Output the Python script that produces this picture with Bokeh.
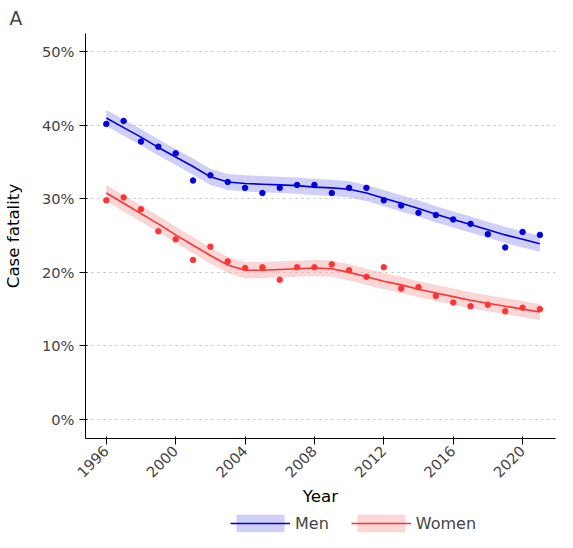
from bokeh.plotting import figure
from bokeh.layouts import column
from bokeh.models import Range1d, NumeralTickFormatter, FixedTicker, Legend, LegendItem
from bokeh.embed import file_html
from bokeh.resources import INLINE
import math

years = list(range(1996, 2022))
men_obs = [40.2,40.6,37.8,37.1,36.2,32.5,33.2,32.3,31.5,30.8,31.5,31.9,31.9,30.8,31.5,31.5,29.8,29.1,28.1,27.8,27.2,26.6,25.2,23.4,25.5,25.1]
women_obs = [29.8,30.2,28.6,25.6,24.5,21.7,23.5,21.5,20.6,20.7,19.0,20.7,20.7,21.1,20.3,19.4,20.7,17.8,18.0,16.8,15.9,15.4,15.6,14.7,15.2,15.0]
men_fit = [41.0,39.7,38.4,37.0,35.7,34.4,33.0,32.3,32.1,32.0,31.9,31.8,31.6,31.5,31.3,30.8,30.1,29.4,28.7,27.9,27.2,26.5,25.8,25.1,24.5,23.9]
women_fit = [30.8,29.4,28.0,26.6,25.1,23.7,22.3,21.0,20.3,20.3,20.4,20.5,20.6,20.5,20.0,19.4,18.8,18.3,17.7,17.2,16.7,16.2,15.8,15.4,15.0,14.6]
band = 1.1

F = "DejaVu Sans"
p = figure(width=557, height=508, output_backend="svg", toolbar_location=None,
           x_range=Range1d(1994.8, 2021.9), y_range=Range1d(-0.026, 0.525),
           title="A", x_axis_label="Year", y_axis_label="Case fatality",
           min_border_right=2, min_border_top=0, min_border_left=0, min_border_bottom=0)
p.title.text_font = F; p.title.text_font_size = "14pt"; p.title.text_font_style = "normal"
p.title.offset = -76
p.outline_line_color = None
p.xgrid.grid_line_color = None
p.ygrid.grid_line_color = "#bbbbbb"; p.ygrid.grid_line_dash = "2 4"; p.ygrid.grid_line_width = 1.2
p.yaxis.ticker = FixedTicker(ticks=[0, 0.1, 0.2, 0.3, 0.4, 0.5])
p.yaxis.formatter = NumeralTickFormatter(format="0%")
p.xaxis.ticker = FixedTicker(ticks=[1996, 2000, 2004, 2008, 2012, 2016, 2020])
p.xaxis.major_label_orientation = math.pi / 4
for ax in (p.xaxis, p.yaxis):
    ax.axis_line_color = "black"; ax.major_tick_line_color = "black"
    ax.minor_tick_line_color = None
    ax.major_label_text_font = F; ax.major_label_text_font_size = "11pt"; ax.major_label_text_color = "#444444"
    ax.axis_label_text_font = F; ax.axis_label_text_font_size = "12.5pt"; ax.axis_label_text_font_style = "normal"
    ax.axis_label_text_color = "black"
p.yaxis.axis_label_standoff = 16
p.xaxis.axis_label_standoff = 2
p.xaxis.major_label_standoff = 4

q = figure(width=557, height=26, output_backend="svg", toolbar_location=None,
           x_range=Range1d(0, 1), y_range=Range1d(0, 1), min_border=0)
q.axis.visible = False; q.grid.visible = False; q.outline_line_color = None

items = []
for name, obs, fit, col, fill in [("Men", men_obs, men_fit, "#0000dd", "#aaaaee"),
                                  ("Women", women_obs, women_fit, "#ff3333", "#f5b5b5")]:
    lo = [(v - band) / 100 for v in fit]; hi = [(v + band) / 100 for v in fit]
    p.varea(x=years, y1=lo, y2=hi, fill_color=fill, fill_alpha=0.55)
    p.line(x=years, y=[v / 100 for v in fit], line_color=col, line_width=1.6)
    p.scatter(x=years, y=[v / 100 for v in obs], size=5.5, color=col)
    a = q.varea(x=[5, 6], y1=[5, 5], y2=[6, 6], fill_color=fill, fill_alpha=0.55)
    l = q.line(x=[5, 6], y=[5, 6], line_color=col, line_width=1.6)
    items.append(LegendItem(label=name, renderers=[a, l]))
leg = Legend(items=items, orientation="horizontal", location=(145, 0), border_line_color=None,
             background_fill_alpha=0,
             label_text_font=F, label_text_font_size="12pt", glyph_width=60, glyph_height=22, spacing=22,
             padding=2, margin=0)
q.add_layout(leg, "center")
open("out.html", "w").write(file_html(column(p, q, spacing=0), INLINE))
